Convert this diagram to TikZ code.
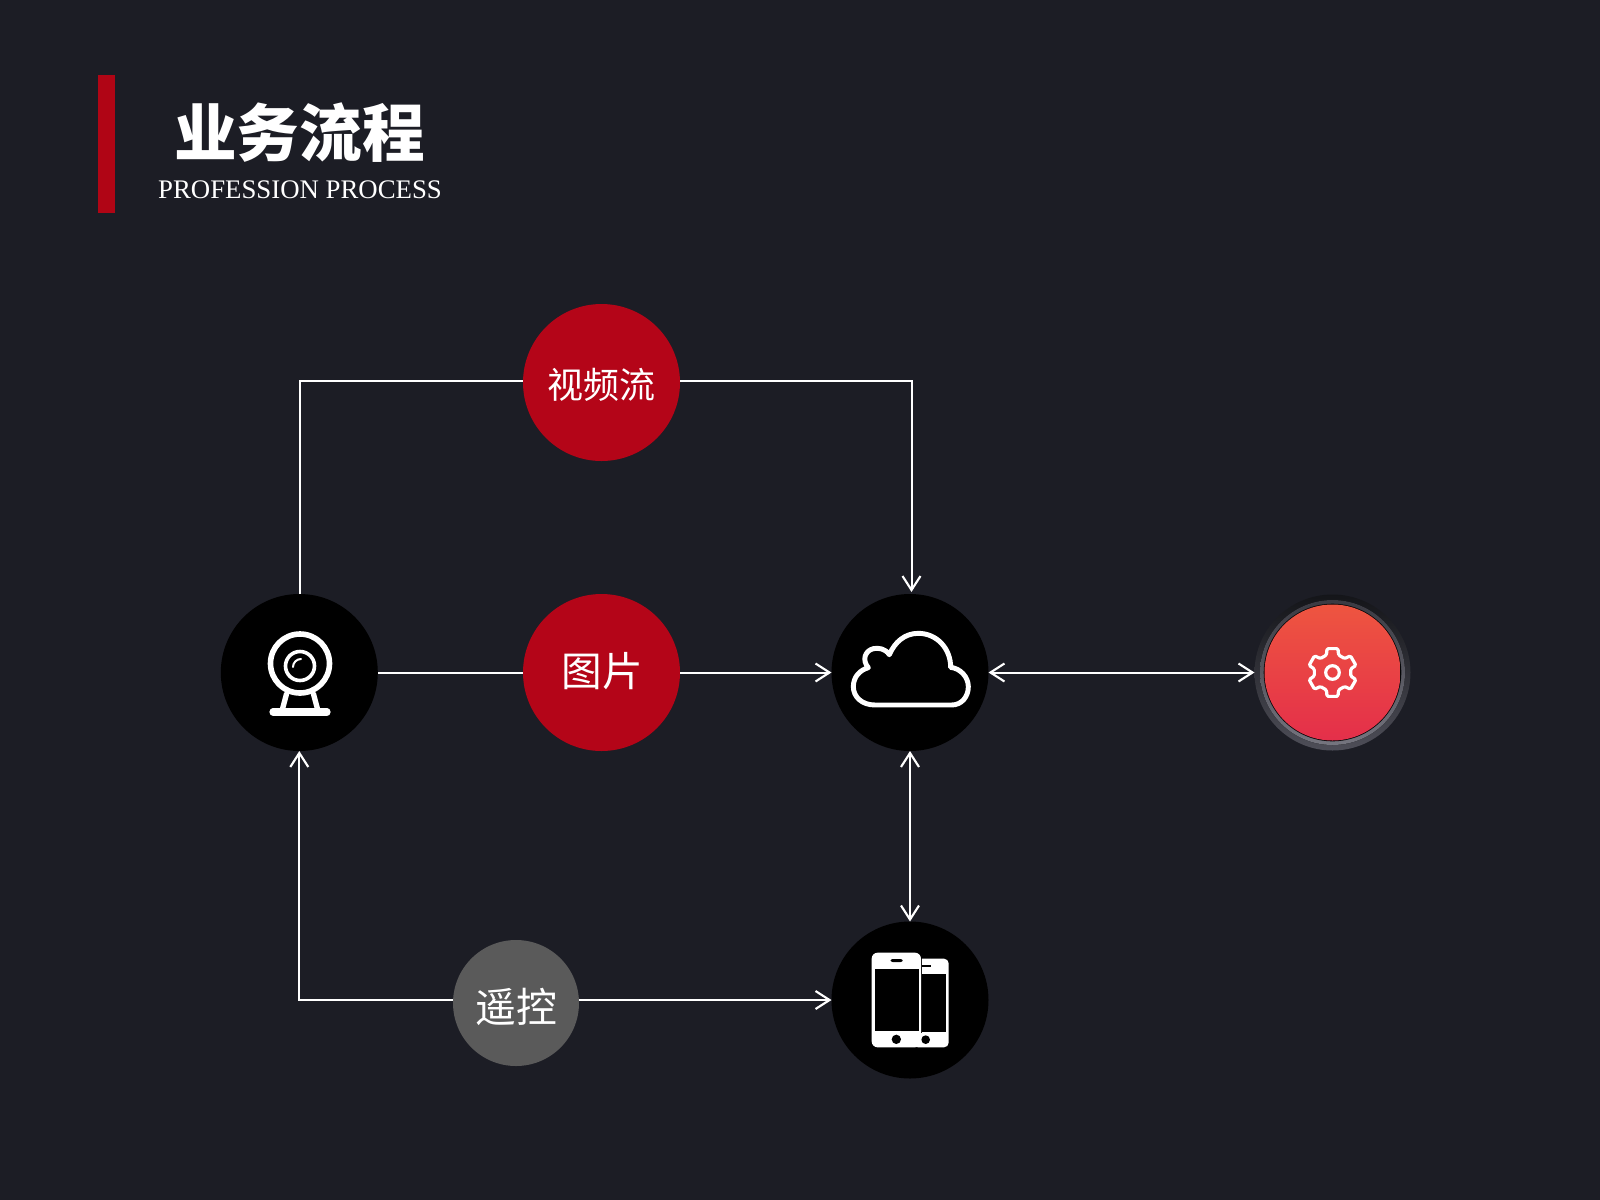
\documentclass[tikz,border=0pt]{standalone}
\usepackage{fontspec}
\setmainfont{Liberation Serif}
\newfontfamily\cjk{Noto Sans CJK SC}
\usetikzlibrary{arrows.meta,shadings}
\definecolor{bgc}{HTML}{1C1D25}
\definecolor{barc}{HTML}{B00515}
\definecolor{redc}{HTML}{B40518}
\definecolor{grayc}{HTML}{5A5A5A}
\definecolor{ringa}{HTML}{141519}
\definecolor{ringb}{HTML}{4E4E58}
\definecolor{ringc}{HTML}{3A3A42}
\definecolor{ringd}{HTML}{75757F}
\definecolor{redtop}{HTML}{EE5540}
\definecolor{redbot}{HTML}{E42F4A}
\tikzset{
 px/.style={x=0.75pt,y=-0.75pt},
 dot/.style={circle,fill=black,draw=none,minimum size=117.75pt,inner sep=0pt,outer sep=0pt},
 redlabel/.style={circle,fill=redc,draw=none,minimum size=117.75pt,inner sep=0pt,outer sep=0pt},
 graylabel/.style={circle,fill=grayc,draw=none,minimum size=94.5pt,inner sep=0pt,outer sep=0pt},
 inlabel/.style={text=white,inner sep=0pt},
 link/.style={draw=white,line width=1.5pt},
 tipb/.tip={Straight Barb[length=10.5pt,width=13.5pt,line width=1.6pt]},
 icon/.style={draw=white,line width=3.6pt,line cap=round,line join=round},
}
\begin{document}
\begin{tikzpicture}[px]
\path[use as bounding box,fill=bgc] (0,0) rectangle (1600,1200);
\fill[barc] (98,75) rectangle (115,213);
\node[text=white,font=\cjk\bfseries\fontsize{47}{47}\selectfont,inner sep=0pt] (title) at (299.5,133) {业务流程};
\node[text=white,font=\fontsize{20.1}{20.1}\selectfont,inner sep=0pt] (sub) at (300,189.5) {PROFESSION PROCESS};

\node[dot] (cam) at (299.3,672.5) {};
\node[dot] (cloud) at (910,672.5) {};
\node[dot] (phone) at (910,1000) {};
\node[redlabel] (video) at (601.5,382.5) {};
\node[inlabel,font=\cjk\fontsize{27}{27}\selectfont] (videotxt) at (601.5,385) {视频流};
\node[redlabel] (pic) at (601.5,672.5) {};
\node[inlabel,font=\cjk\fontsize{30.5}{30.5}\selectfont] (pictxt) at (602.5,671) {图片};
\node[graylabel] (remote) at (516,1003) {};
\node[inlabel,font=\cjk\fontsize{30.6}{30.6}\selectfont] (remotetxt) at (516,1007) {遥控};
\node[circle,minimum size=117pt,inner sep=0pt,outer sep=0pt,draw=none,top color=ringa,bottom color=ringb] (gear) at (1332.5,672.5) {};
\fill[top color=ringc,bottom color=ringd] (gear.center) circle (72.5);
\fill[black!70!bgc] (gear.center) circle (68.8);
\fill[top color=redtop,bottom color=redbot] (gear.center) circle (68);

% connectors
\coordinate (topA) at ([xshift=0.3pt]cam.north);
\coordinate (topL) at (topA|-0,380.8);
\coordinate (topR) at (911.5,380.8);
\coordinate (topV1) at (video.west|-topL);
\coordinate (topV2) at (video.east|-topL);
\coordinate (topB) at (911.5,592);
\draw[link] (topA) -- (topL) -- (topV1);
\draw[link,-{tipb}] (topV2) -- (topR) -- (topB);
\draw[link] (cam.east) -- (pic.west);
\draw[link,-{tipb}] (pic.east) -- (cloud.west);
\draw[link,{tipb}-{tipb}] (cloud.east) -- (gear.west);
\draw[link,{tipb}-{tipb}] (cloud.south) -- (phone.north);
\draw[link,-{tipb}] (remote.west|-phone.west) -| (cam.south);
\draw[link,-{tipb}] (remote.east|-phone.west) -- (phone.west);

% webcam icon
\begin{scope}[shift={(300,0)}]
\draw[icon,line width=4.2pt] (0,663.5) circle (29.5);
\draw[icon,line width=2.7pt] (0,666) circle (14.5);
\draw[white,line width=1.5pt,line cap=round] (-7,667) arc[start angle=180,end angle=270,radius=8];
\draw[icon,line width=5.4pt] (-27,712) -- (27,712);
\draw[icon,line width=4pt] (-13.5,694) -- (-17.5,709);
\draw[icon,line width=4pt] (13.5,694) -- (17.5,709);
\end{scope}

% cloud icon
\begin{scope}[shift={(820,580)},x=0.25pt,y=-0.25pt]
\draw[icon,line width=3.7pt]
 (165,375) -- (395,375)
 .. controls (425,375) and (445,350) .. (445,320)
 .. controls (445,290) and (420,265) .. (392,262)
 .. controls (392,205) and (350,160) .. (295,160)
 .. controls (255,160) and (225,185) .. (208,224)
 .. controls (195,205) and (175,203) .. (160,206)
 .. controls (135,212) and (125,240) .. (145,263)
 .. controls (120,270) and (100,290) .. (100,320)
 .. controls (100,350) and (125,375) .. (165,375) -- cycle;
\end{scope}

% phones icon
\begin{scope}[shift={(820,910)},x=0.25pt,y=-0.25pt]
\fill[white,rounded corners=3.5pt] (280,146) rectangle (386,412);
\fill[black] (300,191) rectangle (379,367);
\fill[black] (300,164) rectangle (334,172);
\fill[black] (317,389) circle (13);
\fill[black] (303,130) rectangle (306,368);
\fill[white,rounded corners=4.5pt] (155,128) rectangle (303,412);
\fill[black] (164,176) rectangle (296,363);
\fill[black,rounded corners=1.5pt] (212,147) rectangle (248,156);
\fill[black] (229,388) circle (14);
\end{scope}

% gear icon
\begin{scope}[shift={(gear.center)}]
\draw[white,line width=2.4pt,line join=round,rounded corners=1pt]
 (77:24.5) \foreach \a in {90,150,210,270,330,30} { -- (\a-13:24.5) -- (\a+13:24.5) -- (\a+19:18.5) -- (\a+41:18.5)} -- cycle;
\draw[white,line width=2.4pt] (0,0) circle (6.8);
\end{scope}
\end{tikzpicture}
\end{document}
